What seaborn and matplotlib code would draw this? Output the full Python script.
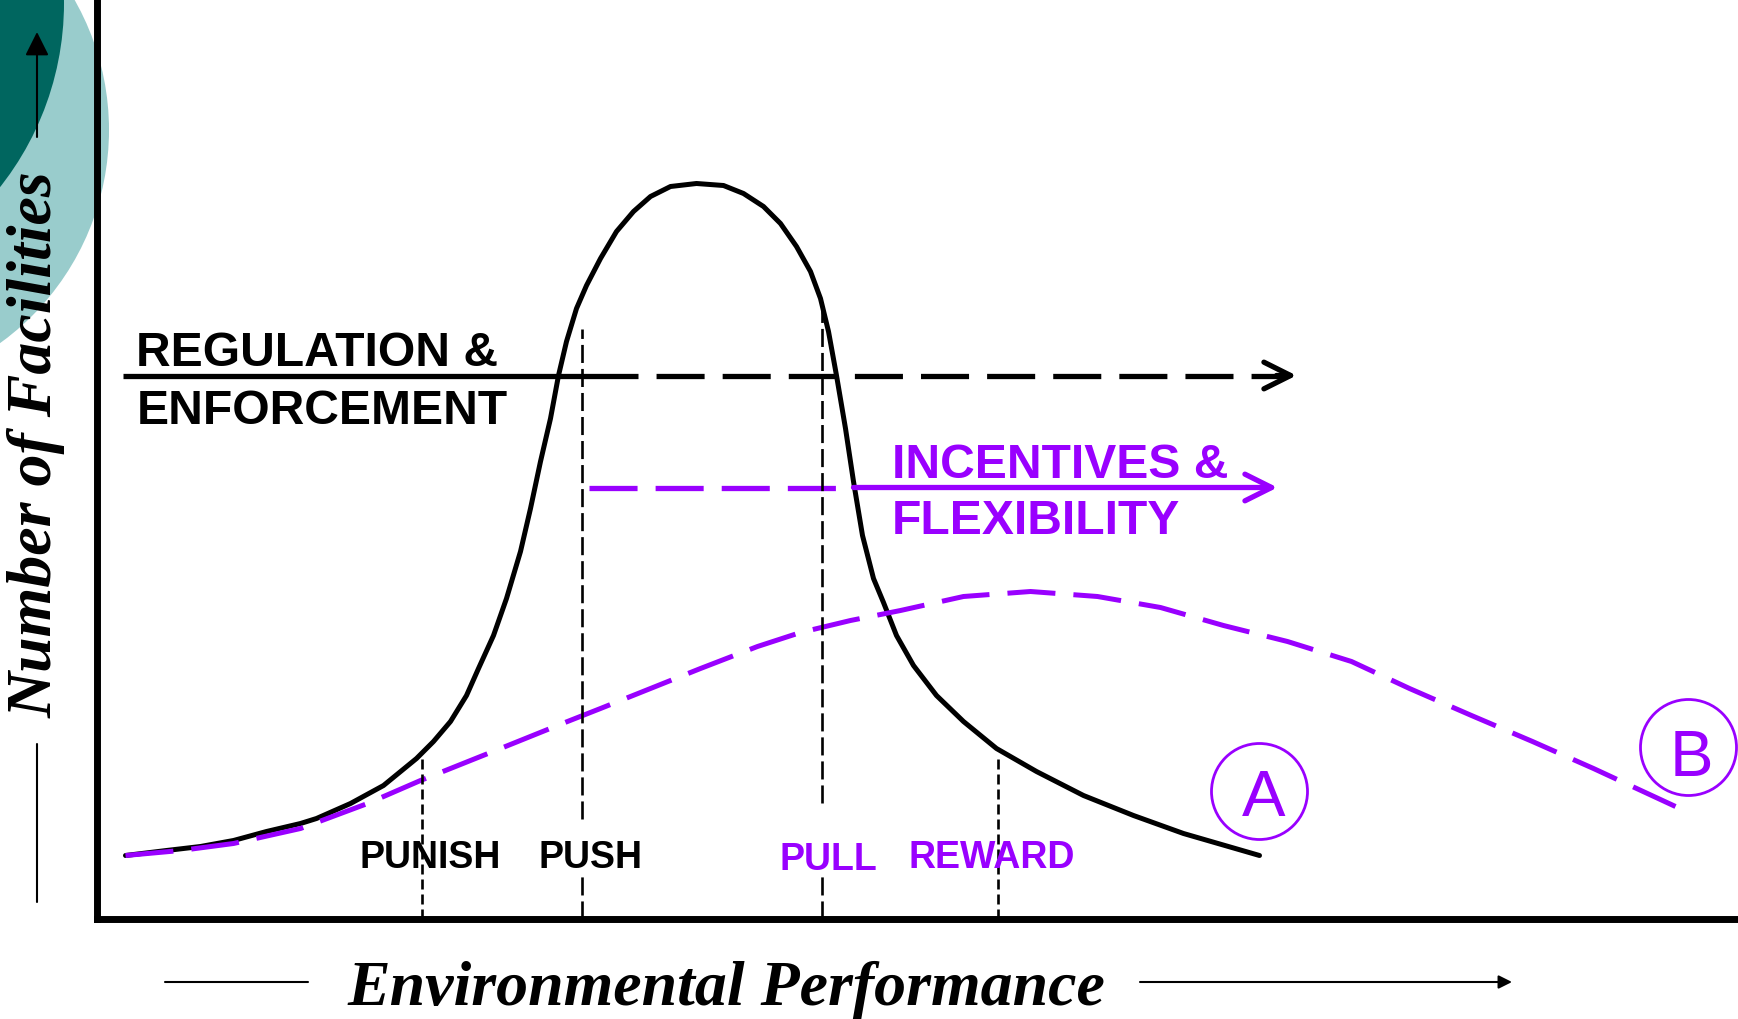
import matplotlib.pyplot as plt
from matplotlib.patches import Circle
import seaborn as sns

# ================================
# Values (chart units, origin at the axes corner)
# ================================
# curve A: today's distribution of facilities
perf_a = [29, 70, 104, 137, 170, 204, 220, 254, 287, 320,
          337, 354, 370, 382, 397, 410, 424, 434, 444, 454,
          462, 470, 480, 490, 504, 520, 537, 554, 574, 600,
          627, 647, 667, 684, 700, 714, 724, 732, 740, 749,
          757, 766, 777, 787, 800, 817, 840, 867, 900, 940,
          987, 1037, 1087, 1163]
count_a = [63, 68, 72, 78, 87, 95, 100, 115, 133, 160,
           177, 197, 223, 250, 283, 320, 367, 410, 457, 500,
           543, 577, 610, 633, 660, 687, 707, 722, 732, 735,
           733, 725, 712, 695, 672, 647, 620, 587, 543, 490,
           437, 383, 340, 316, 283, 253, 223, 197, 170, 147,
           123, 103, 85, 63]

# curve B: shifted distribution
perf_b = [29, 84, 137, 204, 271, 324, 404, 471, 504, 554,
          604, 661, 704, 754, 804, 867, 934, 1001, 1064, 1127,
          1191, 1255, 1313, 1375, 1436, 1497, 1579]
count_b = [63, 68, 75, 90, 115, 138, 170, 197, 210, 230,
           250, 272, 286, 298, 308, 322, 327, 322, 311, 293,
           277, 257, 230, 203, 177, 150, 112]

stage_names = ["PUNISH", "PUSH", "PULL", "REWARD"]
stage_pos = [325, 485, 725, 901]
stage_spans = [[(0, 160)], [(0, 47), (100, 590)], [(0, 47), (116, 610)], [(0, 160)]]

reg_level = 543
inc_level = 431

PURPLE = "#9900FF"

sns.set_theme(style="white")
plt.rcParams["font.family"] = ["Liberation Sans", "DejaVu Sans"]
plt.rcParams["lines.scale_dashes"] = False

W, H = 1738, 1020
fig = plt.figure(figsize=(W / 100, H / 100), dpi=100)

# ================================
# Background: slide decoration + axis titles (pixel coords)
# ================================
bg = fig.add_axes([0, 0, 1, 1])
bg.set_xlim(0, W); bg.set_ylim(H, 0); bg.axis("off")
bg.add_patch(Circle((-154, 131), 263, color="#99CCCC", lw=0))
bg.add_patch(Circle((-233, 4), 297, color="#00665F", lw=0))

bg.annotate("", xy=(37, 33), xytext=(37, 138),
            arrowprops=dict(arrowstyle="-|>,head_length=0.6,head_width=0.3",
                            color="black", lw=1.5, mutation_scale=24, shrinkA=0, shrinkB=0))
bg.plot([37, 37], [745, 903], color="black", lw=1.5)
bg.text(52, 445, "Number of Facilities", rotation=90, rotation_mode="anchor",
        ha="center", va="baseline", family=["Liberation Serif"], style="italic",
        weight="bold", fontsize=46, color="black")

bg.plot([165, 308], [983, 983], color="black", lw=1.5)
bg.annotate("", xy=(1512, 983), xytext=(1140, 983),
            arrowprops=dict(arrowstyle="-|>,head_length=0.5,head_width=0.25",
                            color="black", lw=1.5, mutation_scale=16, shrinkA=0, shrinkB=0))
bg.text(726, 1005, "Environmental Performance", ha="center", va="baseline",
        family=["Liberation Serif"], style="italic", weight="bold", fontsize=46, color="black")

# ================================
# Main axes
# ================================
x0, y0 = 96.5, 919.5
ax = fig.add_axes([x0 / W, (H - y0) / H, (W - x0) / W, (y0 - 3) / H])
ax.set_facecolor("none")
ax.set_xlim(0, W - x0); ax.set_ylim(0, y0 - 3)
ax.set_xticks([]); ax.set_yticks([])
for s in ["top", "right"]:
    ax.spines[s].set_visible(False)
for s in ["left", "bottom"]:
    ax.spines[s].set_linewidth(5.0)
    ax.spines[s].set_color("black")

dash = (0, (34.6, 13))
sns.lineplot(x=perf_a, y=count_a, ax=ax, color="black", lw=3.6,
             estimator=None, sort=False)
sns.lineplot(x=perf_b, y=count_b, ax=ax, color=PURPLE, lw=3.6, linestyle=dash,
             estimator=None, sort=False)

# policy arrows
ax.plot([26, 541], [reg_level, reg_level], color="black", lw=3.8, solid_capstyle="butt")
ax.plot([541, 1186], [reg_level, reg_level], color="black", lw=3.8, linestyle=(34.6, (34.6, 13)))
ax.annotate("", xy=(1200, reg_level), xytext=(1180, reg_level),
            arrowprops=dict(arrowstyle="->,head_length=0.4,head_width=0.2",
                            color="black", lw=3.8, mutation_scale=48, shrinkA=0, shrinkB=0))

ax.plot([492, 740], [inc_level, inc_level], color=PURPLE, lw=3.8, linestyle=dash)
ax.annotate("", xy=(1181, inc_level), xytext=(757, inc_level),
            arrowprops=dict(arrowstyle="->,head_length=0.4,head_width=0.2",
                            color=PURPLE, lw=3.8, mutation_scale=48, shrinkA=0, shrinkB=0))

ax.text(40, 554, "REGULATION &", ha="left", va="baseline", weight="bold", fontsize=34.6, color="black")
ax.text(40, 496, "ENFORCEMENT", ha="left", va="baseline", weight="bold", fontsize=34.6, color="black")
ax.text(795, 442, "INCENTIVES &", ha="left", va="baseline", weight="bold", fontsize=34.6, color=PURPLE)
ax.text(795, 386, "FLEXIBILITY", ha="left", va="baseline", weight="bold", fontsize=34.6, color=PURPLE)

# stage markers
stage_colors = ["black", "black", PURPLE, PURPLE]
stage_dash = [(0, (7.2, 3.6)), (0, (13, 4.3)), (0, (13, 4.3)), (0, (7.2, 3.6))]
label_x = [334, 494, 732, 895]
label_y = [51, 51, 49, 51]
for i, name in enumerate(stage_names):
    for lo, hi in stage_spans[i]:
        ax.plot([stage_pos[i], stage_pos[i]], [lo, hi], color="black", lw=1.9,
                linestyle=stage_dash[i])
    ax.text(label_x[i], label_y[i], name, ha="center", va="baseline", weight="bold",
            fontsize=27, color=stage_colors[i])

# circled end labels
ax.scatter([1163, 1592], [127, 171], s=(2 * 48 * 0.72) ** 2, facecolors="none",
           edgecolors=PURPLE, linewidths=2.0, clip_on=False, zorder=5)
ax.text(1167, 104, "A", ha="center", va="baseline", fontsize=47, color=PURPLE)
ax.text(1595, 143, "B", ha="center", va="baseline", fontsize=47, color=PURPLE)

fig.savefig("out.png", dpi=100)
